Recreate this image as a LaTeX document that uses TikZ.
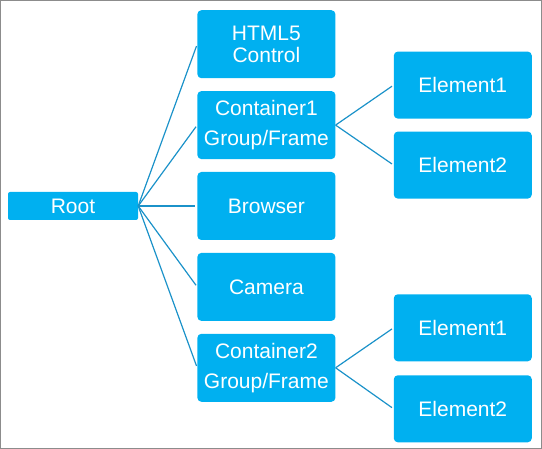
\documentclass[tikz,border=0pt]{standalone}
\usepackage{fontspec}
\setmainfont{Liberation Sans}
\usetikzlibrary{positioning}
\definecolor{boxblue}{HTML}{00B0F0}
\definecolor{lineblue}{HTML}{1B92C9}

\begin{document}
\begin{tikzpicture}[-,
					x=1pt,y=1pt,
					node distance=12.5pt,
					box/.style={rectangle,fill=boxblue,text=white,rounded corners=4pt,
					            minimum width=138pt,minimum height=68pt,align=center,
					            inner sep=0pt,font=\fontsize{21}{21.7}\selectfont},
					root box/.style={box,rounded corners=2pt,minimum width=130pt,minimum height=28pt},
					group box/.style={box,font=\fontsize{21}{30}\selectfont},
					leaf box/.style={box,minimum height=67pt},
					link/.style={draw=lineblue,line width=1.2pt,shorten >=2pt}]

  \useasboundingbox (0,0) rectangle (542,449);
  \draw[gray!90,line width=1pt] (0.5,0.5) rectangle (541.5,448.5);

  \node[root box] (root) at (73,243) {Root};
  \node[box] (browser) [right=59pt of root] {Browser};
  \node[group box] (cont1) [above=of browser] {Container1\\Group/Frame};
  \node[box] (html) [above=of cont1] {HTML5\\Control};
  \node[box] (camera) [below=of browser] {Camera};
  \node[group box] (cont2) [below=of camera] {Container2\\Group/Frame};

  \node[leaf box] (elemA1) [right=58pt of cont1, yshift=40pt] {Element1};
  \node[leaf box] (elemA2) [right=58pt of cont1, yshift=-40pt] {Element2};
  \node[leaf box] (elemB1) [right=58pt of cont2, yshift=40pt] {Element1};
  \node[leaf box] (elemB2) [right=58pt of cont2, yshift=-41pt] {Element2};

  \path[link]
    (root.east) edge (html.west)
                edge (cont1.west)
                edge (browser.west)
                edge (camera.west)
                edge (cont2.west)
    (cont1.east) edge (elemA1.west)
                 edge (elemA2.west)
    (cont2.east) edge (elemB1.west)
                 edge (elemB2.west);
\end{tikzpicture}
\end{document}
